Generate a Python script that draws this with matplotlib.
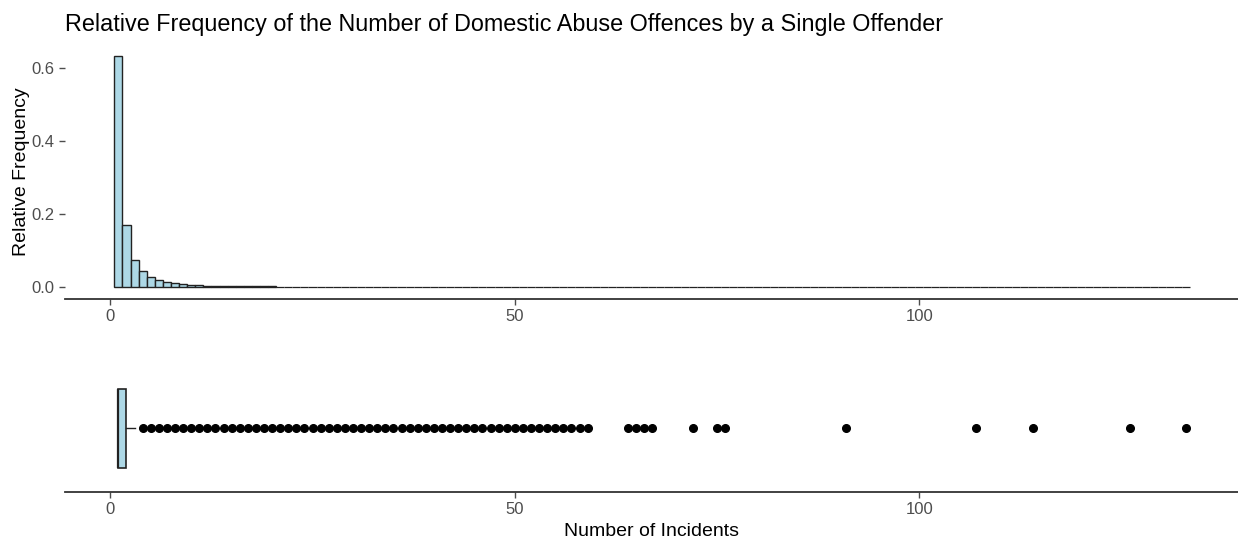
import numpy as np
import matplotlib
matplotlib.use("Agg")
from matplotlib import pyplot as plt

plt.rcParams['font.family'] = ['Liberation Sans', 'DejaVu Sans']

# relative frequency per number of incidents (1..20), rest of the tail is ~0
incidents = np.arange(1, 21)
rel_freq = [0.632, 0.169, 0.073, 0.044, 0.026, 0.018, 0.014, 0.010, 0.007, 0.006,
            0.005, 0.004, 0.004, 0.003, 0.003, 0.003, 0.002, 0.002, 0.002, 0.002]
tail_incidents = np.arange(21, 134)
tail_freq = np.zeros(len(tail_incidents))

# boxplot summary and outlying offenders
box_q1, box_med, box_q3 = 1, 1, 2
whisker_lo, whisker_hi = 1, 3
outliers = list(range(4, 60)) + [64, 65, 66, 67, 72, 75, 76, 91, 107, 114, 126, 133]

x_ticks = [0, 50, 100]
y_ticks = [0.0, 0.2, 0.4, 0.6]

W, H = 1238, 540
fig = plt.figure(figsize=(W / 100, H / 100), dpi=100)

def px_axes(left, top, right, bottom):
    return fig.add_axes([left / W, 1 - bottom / H, (right - left) / W, (bottom - top) / H])

grey = '#4d4d4d'
xlim = (-5.6, 139.4)

def style(ax):
    for s in ['top', 'right', 'left']:
        ax.spines[s].set_visible(False)
    ax.spines['bottom'].set_linewidth(1.3)
    ax.spines['bottom'].set_color('#333333')
    ax.set_xlim(*xlim)
    ax.set_xticks(x_ticks)
    ax.tick_params(axis='both', colors=grey, labelcolor=grey, labelsize=12,
                   length=4, width=1, direction='out')

# histogram panel
ax1 = px_axes(65, 44.6, 1238, 298.5)
style(ax1)
ax1.bar(tail_incidents, tail_freq, width=1, color='#add8e6', edgecolor='#222222', linewidth=0.9)
ax1.bar(incidents, rel_freq, width=1, color='#add8e6', edgecolor='#222222', linewidth=1.0)
ax1.set_ylim(-0.0316, 0.664)
ax1.set_yticks(y_ticks)
ax1.set_yticklabels(['0.0', '0.2', '0.4', '0.6'])
ax1.set_ylabel('Relative Frequency', fontsize=14, color='black', labelpad=1)
ax1.set_title('Relative Frequency of the Number of Domestic Abuse Offences by a Single Offender',
              loc='left', fontsize=16.8, pad=10)
ax1.title.set_position((0.0, 1.0))

# boxplot panel
ax2 = px_axes(65, 365, 1238, 491.8)
style(ax2)
stats = [dict(med=box_med, q1=box_q1, q3=box_q3, whislo=whisker_lo, whishi=whisker_hi,
              fliers=outliers)]
ax2.bxp(stats, positions=[1], widths=0.75, vert=False, patch_artist=True, showcaps=False,
        boxprops=dict(facecolor='#add8e6', edgecolor='#222222', linewidth=1.2),
        medianprops=dict(color='#222222', linewidth=1.6),
        whiskerprops=dict(color='#222222', linewidth=1.0),
        flierprops=dict(marker='o', markerfacecolor='black', markeredgecolor='black',
                        markersize=5.5, linestyle='none'))
ax2.set_ylim(0.4, 1.6)
ax2.set_yticks([])
ax2.set_xlabel('Number of Incidents', fontsize=14, color='black', labelpad=4)

fig.savefig('out.png', dpi=100)
